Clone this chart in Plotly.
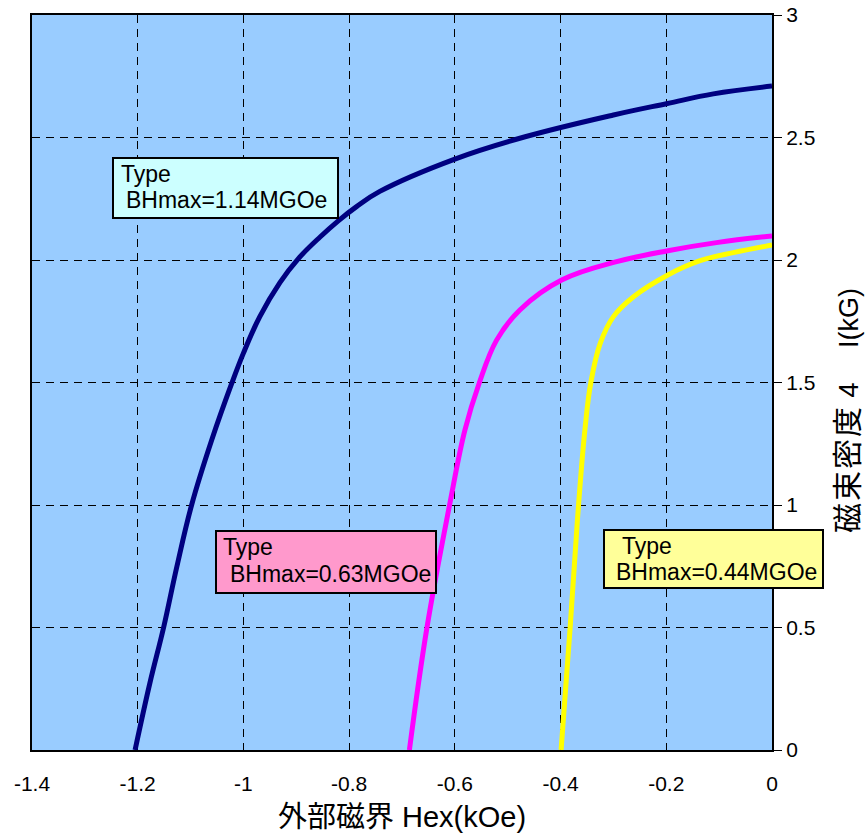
import plotly.graph_objects as go

# ---- data ----
navy_x = [-1.205, -1.177, -1.151, -1.126, -1.098, -1.060, -1.022, -1.000, -0.969, -0.931,
          -0.896, -0.855, -0.820, -0.786, -0.742, -0.600, -0.467, -0.300, -0.198, -0.111, 0.0]
navy_y = [0.0, 0.273, 0.5, 0.748, 1.0, 1.265, 1.497, 1.620, 1.769, 1.908,
          2.006, 2.094, 2.161, 2.218, 2.280, 2.412, 2.503, 2.592, 2.639, 2.678, 2.71]

magenta_x = [-0.686, -0.653, -0.610, -0.581, -0.554, -0.521, -0.477, -0.398,
             -0.294, -0.197, -0.105, 0.0]
magenta_y = [0.0, 0.497, 1.0, 1.306, 1.497, 1.673, 1.796, 1.918,
             1.993, 2.038, 2.071, 2.098]

yellow_x = [-0.399, -0.382, -0.366, -0.354, -0.343, -0.325, -0.300, -0.262, -0.197,
            -0.136, -0.073, 0.0]
yellow_y = [0.0, 0.497, 1.0, 1.306, 1.497, 1.660, 1.769, 1.850, 1.939,
            1.997, 2.030, 2.061]

x_ticks = [-1.4, -1.2, -1.0, -0.8, -0.6, -0.4, -0.2, 0.0]
x_tick_labels = ["-1.4", "-1.2", "-1", "-0.8", "-0.6", "-0.4", "-0.2", "0"]
y_ticks = [0, 0.5, 1, 1.5, 2, 2.5, 3]
y_tick_labels = ["0", "0.5", "1", "1.5", "2", "2.5", "3"]

label_line1 = ["Type", "Type", "Type"]
label_line2 = ["BHmax=1.14MGOe", "BHmax=0.63MGOe", "BHmax=0.44MGOe"]

x_title = "外部磁界 Hex(kOe)"
y_title_cjk = "磁束密度"
y_title_rest = " 4\u3000 I(kG)"

FONT = "Liberation Sans, Arial, Noto Sans CJK JP, sans-serif"

# plot area in pixels (for placing boxes in paper coordinates)
L, R, T, B = 32, 772, 15, 750
def px(xp):
    return (xp - L) / (R - L)
def py(yp):
    return (B - yp) / (B - T)

fig = go.Figure()
for xs, ys, col in [(navy_x, navy_y, "#000080"),
                    (magenta_x, magenta_y, "#FF00FF"),
                    (yellow_x, yellow_y, "#FFFF00")]:
    fig.add_trace(go.Scatter(x=xs, y=ys, mode="lines",
                             line=dict(color=col, width=5, shape="spline", smoothing=1.1),
                             showlegend=False, hoverinfo="skip"))

# label boxes: (x0, y0, x1, y1 px), fill, (line1 x, y), (line2 x, y)
boxes = [((113, 158, 338, 218), "#CCFFFF", (120, 174), (125, 200)),
         ((216, 531, 436, 593), "#FF99CC", (222, 547), (229, 574)),
         ((604, 530, 823, 588), "#FFFF99", (621, 546), (615, 572))]
for (box, fill, p1, p2), t1, t2 in zip(boxes, label_line1, label_line2):
    x0, y0, x1, y1 = box
    fig.add_shape(type="rect", xref="paper", yref="paper",
                  x0=px(x0), x1=px(x1), y0=py(y1), y1=py(y0),
                  fillcolor=fill, line=dict(color="black", width=2), layer="above")
    for (tx, ty), t in [(p1, t1), (p2, t2)]:
        fig.add_annotation(x=px(tx), y=py(ty), xref="paper", yref="paper",
                           xanchor="left", yanchor="middle", text=t, showarrow=False,
                           borderpad=0, font=dict(family=FONT, size=23, color="black"))

# y-axis title (right side, rotated)
fig.add_annotation(x=px(847), y=py(411), xref="paper", yref="paper",
                   xanchor="center", yanchor="middle", textangle=-90, showarrow=False,
                   text='<span style="font-size:30px;letter-spacing:2px">' + y_title_cjk
                        + '</span>' + y_title_rest,
                   font=dict(family=FONT, size=27, color="black"))

fig.update_layout(
    width=868, height=840,
    margin=dict(l=L, r=868 - R, t=T, b=840 - B),
    paper_bgcolor="white", plot_bgcolor="#99CCFF",
    font=dict(family=FONT, color="black"),
    xaxis=dict(range=[-1.4, 0], tickvals=x_ticks, ticktext=x_tick_labels, automargin=False,
               showgrid=True, gridcolor="black", gridwidth=1, griddash="8px,6px",
               zeroline=False, showline=True, linecolor="black", linewidth=2, mirror=True,
               ticks="", ticklabelstandoff=14, tickfont=dict(size=21),
               title=dict(text=x_title, font=dict(size=29), standoff=12)),
    yaxis=dict(range=[0, 3], side="right", tickvals=y_ticks, ticktext=y_tick_labels,
               automargin=False,
               showgrid=True, gridcolor="black", gridwidth=1, griddash="8px,6px",
               zeroline=False, showline=True,
               linecolor="black", linewidth=2, mirror=True,
               ticks="outside", ticklen=8, tickcolor="black", tickwidth=1,
               tickfont=dict(size=21)),
)

fig.write_html("out.html")
